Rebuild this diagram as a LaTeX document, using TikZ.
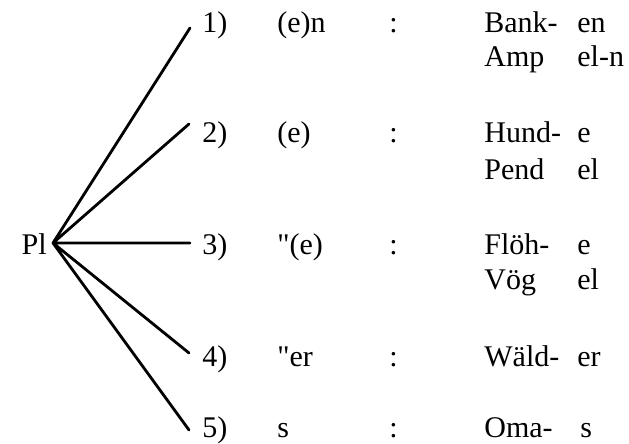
\documentclass[tikz,border=0pt]{standalone}
\usepackage{fontspec}
\setmainfont{Liberation Serif}[Ligatures=TeXOff]
\tikzset{
	lbl/.style={inner sep=0pt, anchor=base west, font=\fontsize{15}{18}\selectfont},
	ast/.style={line width=1.4pt}
}
\begin{document}
\begin{tikzpicture}[x=0.5pt, y=-0.5pt, line join=round, line cap=round]
	\useasboundingbox (0,0) rectangle (629,444);
	\def\xn{202} \def\xe{277} \def\xc{389} \def\xw{484} \def\xs{577} % Spalten
	\def\ya{33} \def\yb{143} \def\yc{255} \def\yd{367} \def\ye{438} % Zeilen (Grundlinie)
	\node[lbl, anchor=base east] (pl) at (47,\yc) {Pl};
	\coordinate (O) at (53,243);
	\coordinate (e1) at (190,28);
	\coordinate (e2) at (189,124);
	\coordinate (e3) at (190,243);
	\coordinate (e4) at (189,353);
	\coordinate (e5) at (189,430);
	\draw[ast] (O) -- (e1) (O) -- (e2) (O) -- (e3) (O) -- (e4) (O) -- (e5);
	% 1)
	\node[lbl] (n1) at (\xn,\ya) {1)};
	\node[lbl] (s1) at (\xe,\ya) {(e)n};
	\node[lbl] (c1) at (\xc,\ya) {:};
	\node[lbl] (w1) at (\xw,\ya) {Bank-};
	\node[lbl] (f1) at (\xs,\ya) {en};
	\node[lbl] (w1b) at (\xw,\ya+34) {Amp};
	\node[lbl] (f1b) at (\xs,\ya+34) {el-n};
	% 2)
	\node[lbl] (n2) at (\xn,\yb) {2)};
	\node[lbl] (s2) at (\xe,\yb) {(e)};
	\node[lbl] (c2) at (\xc,\yb) {:};
	\node[lbl] (w2) at (\xw,\yb) {Hund-};
	\node[lbl] (f2) at (\xs,\yb) {e};
	\node[lbl] (w2b) at (\xw,\yb+37) {Pend};
	\node[lbl] (f2b) at (\xs,\yb+37) {el};
	% 3)
	\node[lbl] (n3) at (\xn,\yc) {3)};
	\node[lbl] (s3) at (\xe,\yc) {"(e)};
	\node[lbl] (c3) at (\xc,\yc) {:};
	\node[lbl] (w3) at (\xw,\yc) {Flöh-};
	\node[lbl] (f3) at (\xs,\yc) {e};
	\node[lbl] (w3b) at (\xw,\yc+35) {Vög};
	\node[lbl] (f3b) at (\xs,\yc+35) {el};
	% 4)
	\node[lbl] (n4) at (\xn,\yd) {4)};
	\node[lbl] (s4) at (\xe,\yd) {"er};
	\node[lbl] (c4) at (\xc,\yd) {:};
	\node[lbl] (w4) at (\xw,\yd) {Wäld-};
	\node[lbl] (f4) at (\xs,\yd) {er};
	% 5)
	\node[lbl] (n5) at (\xn,\ye) {5)};
	\node[lbl] (s5) at (\xe,\ye) {s};
	\node[lbl] (c5) at (\xc,\ye) {:};
	\node[lbl] (w5) at (\xw,\ye) {Oma-};
	\node[lbl] (f5) at (\xs+3,\ye) {s};
\end{tikzpicture}
\end{document}
